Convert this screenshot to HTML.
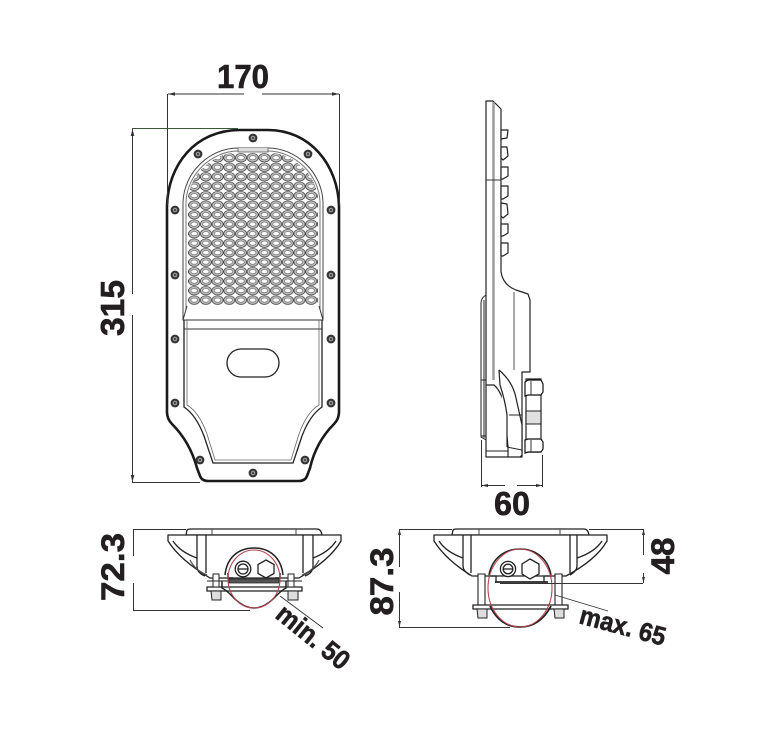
<!DOCTYPE html>
<html><head><meta charset="utf-8"><style>
html,body{margin:0;padding:0;background:#fff;width:774px;height:747px;overflow:hidden}
svg{display:block}
text{font-family:"Liberation Sans",sans-serif;font-weight:700;fill:#231f20;stroke:#231f20;stroke-width:.6}
</style></head><body>
<svg width="774" height="747" viewBox="0 0 774 747" xmlns="http://www.w3.org/2000/svg">
<defs>
<pattern id="led" x="246.85" y="153" width="11.7" height="9.49" patternUnits="userSpaceOnUse">
<rect width="11.7" height="9.49" fill="#fff"/>
<ellipse cx="5.85" cy="4.75" rx="5.6" ry="4.3" fill="#bdbdbd" stroke="#3a3a3a" stroke-width=".7"/>
<ellipse cx="5.85" cy="4.75" rx="3.3" ry="2.1" fill="#fff" stroke="#555" stroke-width=".5"/>
</pattern>
<clipPath id="ledclip"><path d="M188 305V197Q191 177 206 165Q220 153 236 153H270Q286 153 300 165Q315 177 318 197V305Z"/></clipPath>
<g id="screw"><circle r="4.4" fill="#333"/><circle r="2.3" fill="#999"/><circle r="1" fill="#333"/></g>
</defs>

<!-- front view -->
<path d="M167 206C168 165 195 130 240 130H268C310 130 338 165 339 206V412Q339 419 334 424Q316 442 310 468L307 476Q305 481 299 481H208Q202 481 200 476L197 468Q190 442 172 424Q167 419 167 412Z" fill="#fff" stroke="#1a1a1a" stroke-width="2.6"/>
<path d="M183 320V202C184 172 210 148 238 148H268C296 148 322 172 323 202V320" fill="none" stroke="#444" stroke-width="1"/>
<path d="M186 320V202C187 174 212 151 238 151H268C294 151 319 174 320 202V320" fill="none" stroke="#777" stroke-width="1"/>
<path d="M238 148V152H268V148" fill="#ddd" stroke="#555" stroke-width=".8"/>
<rect x="183" y="145" width="140" height="162" fill="url(#led)" clip-path="url(#ledclip)"/>
<path d="M187 306L183 320H323L319 306" fill="#fff" stroke="#333" stroke-width="1"/>
<path d="M184 329H322" stroke="#333" stroke-width="1.1"/>
<path d="M184 320V407Q196 415 204 436L213 463H293L302 436Q310 415 322 407V320" fill="none" stroke="#222" stroke-width="1.3"/>
<path d="M187 320V405Q199 412 207 434L215 460H291L299 434Q307 412 319 405V320" fill="none" stroke="#666" stroke-width=".8"/>
<rect x="227" y="349" width="52" height="28" rx="14" fill="#fff" stroke="#222" stroke-width="1.3"/>
<use href="#screw" x="253" y="138"/><use href="#screw" x="198" y="154"/><use href="#screw" x="308" y="154"/>
<use href="#screw" x="175" y="210"/><use href="#screw" x="331" y="210"/>
<use href="#screw" x="175" y="275"/><use href="#screw" x="331" y="275"/>
<use href="#screw" x="175" y="339"/><use href="#screw" x="331" y="339"/>
<use href="#screw" x="175" y="403"/><use href="#screw" x="331" y="403"/>
<use href="#screw" x="200" y="460"/><use href="#screw" x="305" y="460"/>
<use href="#screw" x="253" y="473"/>

<!-- dims front -->
<g stroke="#333" stroke-width="1" fill="none">
<path d="M167.5 94V205M339.500 94V205"/>
<path d="M168 94H244M262 94H339"/>
<path d="M132.500 129V294M132.500 315V482"/>
<path d="M132 128.500H238" stroke="#3a5a3a"/>
<path d="M132 482.500H200"/>
</g>
<path d="M168 94l7-1.800v3.600ZM339 94l-7-1.800v3.600ZM132.500 129l-1.800 7h3.600ZM132.500 482l-1.800-7h3.600Z" fill="#333"/>
<text x="243" y="88" font-size="33" text-anchor="middle" textLength="52" lengthAdjust="spacingAndGlyphs">170</text>
<text transform="translate(124 308) rotate(-90)" font-size="33" text-anchor="middle" textLength="56" lengthAdjust="spacingAndGlyphs">315</text>

<!-- side view -->
<g fill="#fff" stroke="#222" stroke-width="1.2" stroke-linejoin="round">
<path d="M486 101H493L501 109V272Q503 285 516 290L528 294L530 300V372H522V457H486V380L486 101Z"/>
<path d="M501 130H508L507 138L501 139Z"/>
<path d="M501 147L507 147L508 156L503 160L501 158Z"/>
<path d="M501 167H508V176L503 179H501Z"/>
<path d="M501 186H508V196L503 199H501Z"/>
<path d="M501 203L507 204L508 214L503 218L501 216Z"/>
<path d="M501 224H508V233L503 236H501Z"/>
<path d="M501 243H508V253L503 256H501Z"/>
</g>
<path d="M493.500 102V380" stroke="#999" stroke-width="2.400"/>
<path d="M486 180H501" stroke="#333" stroke-width="1"/>
<path d="M514 292V370" stroke="#555" stroke-width="1"/>
<path d="M486 295Q481 298 481 303V437L486 440M484 300V438" fill="none" stroke="#222" stroke-width="1"/>
<path d="M481 380H486M481 436H486" stroke="#222" stroke-width="1"/>
<path d="M486 385H494Q500 390 504 403L508 447V457" fill="none" stroke="#222" stroke-width="1.2"/>
<path d="M499 370L500 385Q505 400 507 415V447M499 370Q513 382 516 398L522 425V455L520 457" fill="#fff" stroke="#222" stroke-width="1.2"/>
<path d="M509 415H522M507 447L522 450M486 451H508" stroke="#222" stroke-width="1"/>
<path d="M526 379V452H541V379Z" fill="#fff" stroke="#222" stroke-width="1.200"/>
<path d="M525 382L528 380H541L543 384V392L541 395H528L525 396Z" fill="#fff" stroke="#111" stroke-width="1.200"/>
<path d="M525 440L528 439H541L543 442V449L541 452H528L525 453Z" fill="#fff" stroke="#111" stroke-width="1.200"/>
<path d="M526 411H541V424H526Z" fill="#e0e0e0" stroke="#222" stroke-width="1.100"/>
<path d="M531 381V395M531 440V452" stroke="#333"/>
<g stroke="#333" stroke-width="1" fill="none"><path d="M481.500 440V487M542.500 455V487M482 485.500H505M517 485.500H542"/></g>
<path d="M482 485.500l6-1.600v3.200ZM542 485.500l-6-1.600v3.200Z" fill="#333"/>
<text x="512" y="515" font-size="33" text-anchor="middle" textLength="36" lengthAdjust="spacingAndGlyphs">60</text>

<!-- bottom left -->
<g fill="#fff" stroke="#222" stroke-width="1.300" stroke-linejoin="round">
<path d="M186 535L187 530Q188 529 191 529H317Q321 529 322 535Z"/>
<path d="M168 535H341V541Q330 560 299 578H210Q180 560 168 541Z"/>
<path d="M197 535V566Q197 573 205 576M206 535V573M303 535V573M313 535V566Q313 573 305 576" fill="none"/>
<path d="M173 541Q180 552 197 558M336 541Q329 552 313 558" fill="none"/>
<path d="M190 560Q195 570 207 575M319 560Q314 570 302 575" fill="none" stroke="#555"/>
</g>
<path d="M212 529V535M296 529V535" stroke="#444"/>
<path d="M207 587H302V591H207Z" fill="#fff" stroke="#222" stroke-width="1.300"/>
<path d="M213 574H219V587H213ZM288 574H294V587H288Z" fill="#fff" stroke="#222"/>
<path d="M211 591H221V600H212ZM288 591H298V600H288Z" fill="#ddd" stroke="#222"/>
<path d="M207 581H230M280 581H302" stroke="#222" stroke-width="1"/>
<path d="M225 575C227 556 240 548 254 548C268 548 281 556 283 575" fill="#fff" stroke="#222" stroke-width="1.500"/>
<path d="M229 579H279V583H229Z" fill="#555" stroke="#222" stroke-width=".8"/>
<path d="M222 581V588Q226 590 232 596Q243 608 254 608Q265 608 276 596Q282 590 286 588V581" fill="none" stroke="#222" stroke-width="1.500"/>
<path d="M233 578H228V573M275 578H280V573" fill="none" stroke="#222" stroke-width="1.500"/>
<circle cx="243" cy="569" r="7.800" fill="#fff" stroke="#222" stroke-width="1.300"/>
<circle cx="243" cy="569" r="5" fill="#fff" stroke="#222" stroke-width="1.300"/>
<path d="M238 569H248" stroke="#222" stroke-width="1.300"/>
<path d="M266 560L274 564.500V573.500L266 578L258 573.500V564.500Z" fill="#fff" stroke="#222" stroke-width="1.300"/>
<ellipse cx="254" cy="579" rx="26" ry="29" fill="none" stroke="#b44650" stroke-width="1.100"/>
<g stroke="#333" stroke-width="1" fill="none">
<path d="M133.500 529V556M133.500 583V610"/>
<path d="M133 529.500H186M133 610.500H250"/>
<path d="M280 596L323 628" stroke-width=".9"/>
</g>
<text transform="translate(124 567) rotate(-90)" font-size="32" text-anchor="middle" textLength="68" lengthAdjust="spacingAndGlyphs">72.3</text>
<text transform="translate(274 617) rotate(39)" font-size="27" textLength="86" lengthAdjust="spacingAndGlyphs">min. 50</text>

<!-- bottom right -->
<g fill="#fff" stroke="#222" stroke-width="1.300" stroke-linejoin="round">
<path d="M452 535L453 530Q454 529 457 529H584Q588 529 589 535Z"/>
<path d="M434 535H607V541Q596 560 566 576H472Q446 560 434 541Z"/>
<path d="M463 535V566Q463 571 470 575M471 535V573M570 535V573M577 535V566Q577 571 570 575" fill="none"/>
<path d="M439 541Q446 552 463 558M602 541Q595 552 577 558" fill="none"/>
</g>
<path d="M479 529V535M560 529V535" stroke="#444"/>
<path d="M478 574H485V606H478ZM555 574H562V606H555Z" fill="#fff" stroke="#222" stroke-width="1.100"/>
<path d="M473 605H568V609H473Z" fill="#fff" stroke="#222" stroke-width="1.300"/>
<path d="M477 609H487V618H478ZM554 609H564V618H555Z" fill="#ddd" stroke="#222"/>
<path d="M489 575C492 558 505 549 520 549C535 549 548 558 551 575" fill="#fff" stroke="#222" stroke-width="1.500"/>
<path d="M495 582H548" stroke="#222" stroke-width="1.800"/>
<path d="M488 576H496V582M552 576H544V582" fill="none" stroke="#222" stroke-width="1.300"/>
<path d="M490 606Q500 627 520 627Q540 627 551 606" fill="none" stroke="#222" stroke-width="1.800"/>
<circle cx="508" cy="569" r="7.600" fill="#fff" stroke="#222" stroke-width="1.300"/>
<circle cx="508" cy="569" r="4.800" fill="#fff" stroke="#222" stroke-width="1.300"/>
<path d="M503 569H513" stroke="#222" stroke-width="1.300"/>
<path d="M530 559L539 564V574L530 579L522 574V564Z" fill="#fff" stroke="#222" stroke-width="1.300"/>
<ellipse cx="520" cy="588" rx="32" ry="39" fill="none" stroke="#b44650" stroke-width="1.100"/>
<g stroke="#333" stroke-width="1" fill="none">
<path d="M399.500 529V567M399.500 592V627"/>
<path d="M399 529.500H452M399 627.500H510"/>
<path d="M589 529.500H643M500 583.500H643"/>
<path d="M643.500 529V555M643.500 573V583"/>
<path d="M555 595L608 611" stroke-width=".9"/>
</g>
<path d="M399.500 529l-1.500 6h3ZM399.500 627l-1.500-6h3ZM643.500 529l-1.500 6h3ZM643.500 583l-1.500-6h3Z" fill="#333"/>
<text transform="translate(393 581.500) rotate(-90)" font-size="32" text-anchor="middle" textLength="68" lengthAdjust="spacingAndGlyphs">87.3</text>
<text transform="translate(674 556) rotate(-90)" font-size="32" text-anchor="middle" textLength="37" lengthAdjust="spacingAndGlyphs">48</text>
<text transform="translate(578 623) rotate(15)" font-size="26" textLength="88" lengthAdjust="spacingAndGlyphs">max. 65</text>
</svg>
</body></html>
